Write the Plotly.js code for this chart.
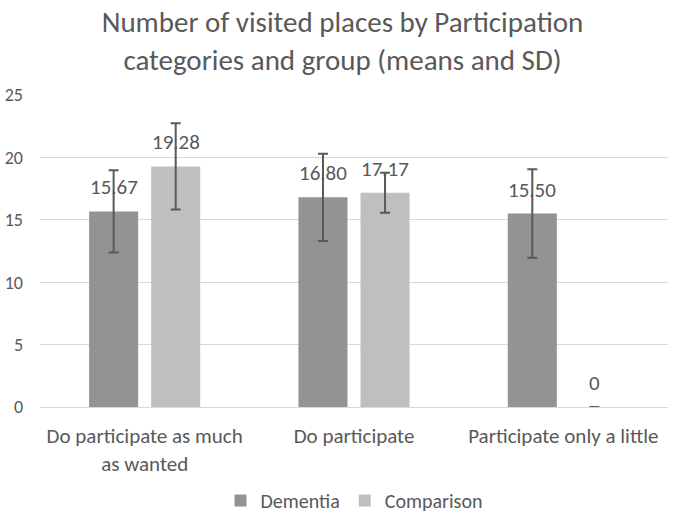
<!DOCTYPE html>
<html>
<head>
<meta charset="utf-8">
<script src="https://cdn.plot.ly/plotly-3.0.1.min.js"></script>
<style>
  html, body { margin: 0; padding: 0; background: #fff; }
  #plotArea { width: 685px; height: 516px; }
</style>
</head>
<body>
<div id="plotArea"></div>
<script>
var categories = ["Do participate as much<br>as wanted", "Do participate", "Participate only a little"];
var dementiaMeans = [15.67, 16.80, 15.50];
var dementiaSD = [3.3, 3.5, 3.55];
var comparisonMeans = [19.28, 17.17, 0];
var comparisonSD = [3.45, 1.6, null];

var fontFam = "Carlito, Lato, 'Open Sans', sans-serif";
var txtColor = "#595959";

function labels(vals) {
    return vals.map(function(v) { return v === 0 ? "0" : v.toFixed(2); });
}

// value labels sit a bit above the bars, like Excel does it
var annots = [];
function addLabels(vals, shift) {
    var txt = labels(vals);
    vals.forEach(function(v, i) {
        annots.push({
            x: categories[i], y: v, xref: "x", yref: "y",
            text: txt[i], showarrow: false,
            xshift: shift, yanchor: "bottom", yshift: 9,
            font: {family: fontFam, size: 21, color: txtColor}
        });
    });
}
addLabels(dementiaMeans, -31);
addLabels(comparisonMeans, 31);

var trace1 = {
    x: categories,
    y: dementiaMeans,
    name: "Dementia",
    type: "bar",
    marker: {color: "#939393"},
    error_y: {type: "data", array: dementiaSD, visible: true, color: "#595959", thickness: 2, width: 5}
};

var trace2 = {
    x: categories,
    y: comparisonMeans,
    name: "Comparison",
    type: "bar",
    marker: {color: "#bfbfbf"},
    error_y: {type: "data", array: comparisonSD, visible: true, color: "#595959", thickness: 2, width: 5}
};

var layout = {
    width: 685,
    height: 516,
    margin: {l: 40, r: 17, t: 95, b: 109, autoexpand: false},
    paper_bgcolor: "#fff",
    plot_bgcolor: "#fff",
    font: {family: fontFam, color: txtColor, size: 15},
    title: {
        text: "Number of visited places by Participation<br>categories and group (means and SD)",
        font: {family: fontFam, size: 29, color: txtColor},
        x: 0.5, xanchor: "center",
        y: 0.938, yanchor: "middle"
    },
    barmode: "group",
    bargap: 0.407,
    bargroupgap: 0.21,
    xaxis: {
        showline: true, linecolor: "#d9d9d9", linewidth: 1,
        ticks: "", automargin: false, ticklabelstandoff: 10,
        tickfont: {size: 21, color: txtColor}
    },
    yaxis: {
        range: [0, 25], dtick: 5, automargin: false,
        showgrid: true, gridcolor: "#d9d9d9", gridwidth: 1,
        zeroline: false, ticks: "", ticklabelstandoff: 16,
        tickfont: {size: 18, color: txtColor}
    },
    legend: {
        orientation: "h", x: 0.5, xanchor: "center", y: -0.362, yanchor: "bottom",
        font: {size: 20, color: txtColor}
    },
    annotations: annots,
    showlegend: true
};

Plotly.newPlot("plotArea", [trace1, trace2], layout, {displayModeBar: false});
</script>
</body>
</html>
